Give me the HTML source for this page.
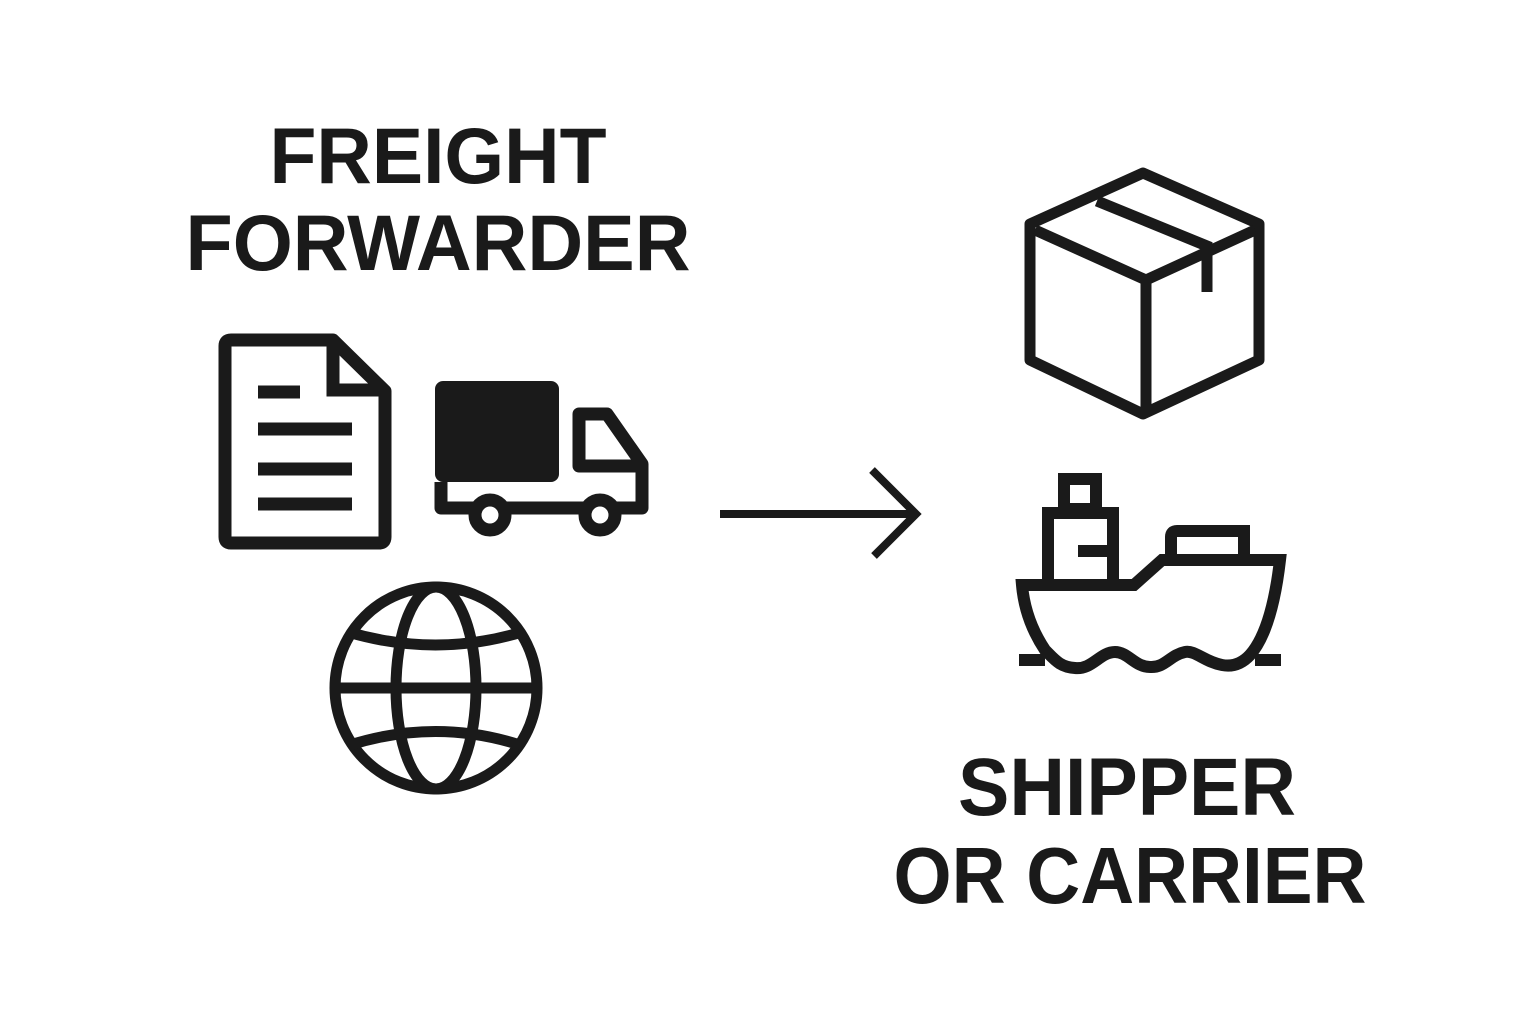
<!DOCTYPE html>
<html><head><meta charset="utf-8"><style>
html,body{margin:0;padding:0;background:#fff;width:1536px;height:1024px;overflow:hidden}
</style></head><body>
<svg width="1536" height="1024" viewBox="0 0 1536 1024" xmlns="http://www.w3.org/2000/svg">
<rect width="1536" height="1024" fill="#fff"/>
<g font-family="Liberation Sans, sans-serif" font-weight="bold" fill="#1a1a1a" text-anchor="middle">
<text x="438" y="183" font-size="79" textLength="337" lengthAdjust="spacingAndGlyphs">FREIGHT</text>
<text x="438" y="270" font-size="79" textLength="505" lengthAdjust="spacingAndGlyphs">FORWARDER</text>
<text x="1127" y="815" font-size="82" textLength="338" lengthAdjust="spacingAndGlyphs">SHIPPER</text>
<text x="1130" y="903" font-size="80" textLength="473" lengthAdjust="spacingAndGlyphs">OR CARRIER</text>
</g>
<g fill="none" stroke="#1a1a1a" stroke-width="13" stroke-linejoin="round">
<!-- document -->
<path d="M231,340 H333 L385,391 V537 Q385,543 379,543 H231 Q225,543 225,537 V346 Q225,340 231,340 Z"/>
<path d="M333,340 V390 H385" stroke-linejoin="miter"/>
<g stroke-linejoin="miter">
<line x1="258" y1="392" x2="300" y2="392"/>
<line x1="258" y1="429" x2="352" y2="429"/>
<line x1="258" y1="469" x2="352" y2="469"/>
<line x1="258" y1="504" x2="352" y2="504"/>
</g>
<!-- truck -->
<path d="M441,482 V508 H642 V464 L607,414 H579 V466 H642"/>
<circle cx="490" cy="515" r="15" fill="#fff"/>
<circle cx="600" cy="515" r="15" fill="#fff"/>
<!-- globe -->
<g stroke-width="11">
<circle cx="436" cy="688" r="101"/>
<ellipse cx="436" cy="688" rx="40" ry="101"/>
<line x1="340" y1="688" x2="532" y2="688"/>
<path d="M348,632 Q436,658 522,632"/>
<path d="M350,745 Q436,718 520,745"/>
</g>
<line x1="436" y1="587" x2="436" y2="589"/>
<!-- arrow -->
<line x1="720" y1="514" x2="916" y2="514" stroke-width="8"/>
<path d="M872,470 L916,514 L874,556" stroke-width="8" stroke-linejoin="miter"/>
<!-- box -->
<g stroke-width="11">
<path d="M1143,173 L1030,224 V360 L1143,414 L1259,360 V224 Z"/>
<path d="M1035,230 L1146,280 L1255,230"/>
<line x1="1146" y1="280" x2="1146" y2="410"/>
<path d="M1097,201 L1207,246 V292" stroke-linejoin="miter"/>
</g>
<!-- ship -->
<g stroke-width="12" stroke-linejoin="miter">
<rect x="1064" y="479" width="32" height="30"/>
<path d="M1048,582 V513 H1113 V582"/>
<path d="M1078,551 H1110"/>
<path d="M1171,560 V537 Q1171,531 1177,531 H1244 V560"/>
<path d="M1022,585 H1134 L1162,560 H1280 Q1272,630 1250,655 Q1238,668 1222,665 C1205,662 1195,650 1185,652 C1170,655 1165,668 1150,667 C1135,667 1128,652 1115,652 C1100,652 1092,670 1075,668 C1060,667 1055,660 1045,650 Q1025,620 1022,585 Z"/>
<line x1="1019" y1="660" x2="1045" y2="660"/>
<line x1="1255" y1="660" x2="1281" y2="660"/>
</g>
</g>
<rect x="435" y="381" width="124" height="101" rx="8" fill="#1a1a1a"/>
</svg>
</body></html>
